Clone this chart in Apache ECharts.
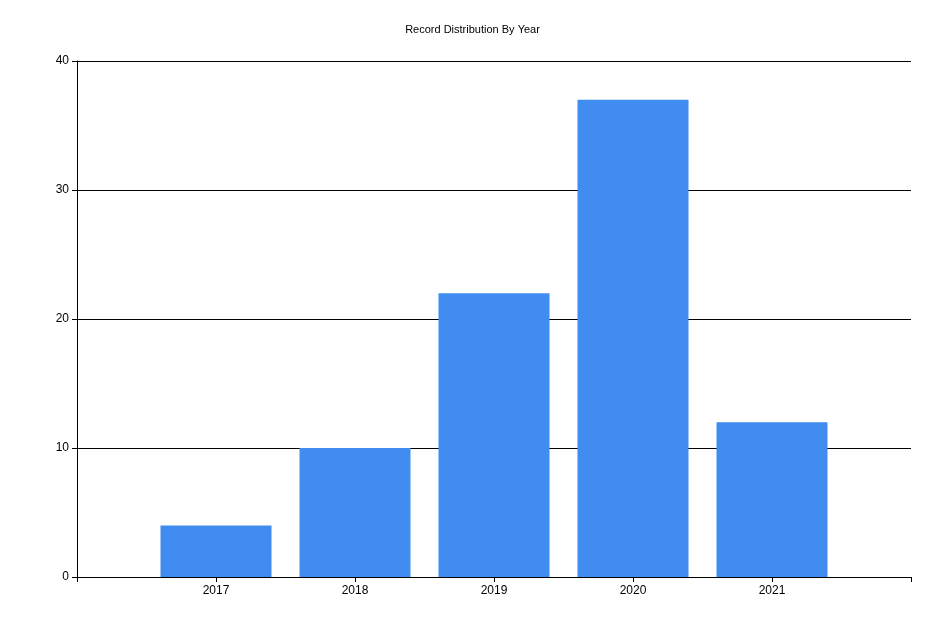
<!DOCTYPE html>
<html><head><meta charset="utf-8">
<script src="https://cdn.jsdelivr.net/npm/echarts@6/dist/echarts.min.js"></script>
<style>html,body{margin:0;padding:0;background:#fff}#c{width:945px;height:630px}</style>
</head><body><div id="c"></div>
<script>
const years = [2017, 2018, 2019, 2020, 2021];
const counts = [4, 10, 22, 37, 12];
const yTicks = [0, 10, 20, 30, 40];
const chart = echarts.init(document.getElementById('c'));
chart.setOption({
  animation: false,
  title: { text: 'Record Distribution By Year', left: 'center', top: 19,
    textStyle: { fontSize: 11, fontWeight: 'normal', color: '#000', fontFamily: 'Liberation Sans' } },
  grid: { left: 77, right: 34, top: 61, bottom: 53 },
  xAxis: { type: 'value', min: 2016, max: 2022, interval: 1,
    axisLine: { lineStyle: { color: '#000' } },
    axisTick: { show: true, length: 5, lineStyle: { color: '#000' } },
    splitLine: { show: false },
    axisLabel: { color: '#000', fontSize: 12, fontFamily: 'Liberation Sans',
      formatter: v => years.includes(v) ? String(v) : '' } },
  yAxis: { type: 'value', min: yTicks[0], max: yTicks[yTicks.length-1], interval: 10,
    axisLine: { show: true, lineStyle: { color: '#000' } },
    axisTick: { show: true, length: 5, lineStyle: { color: '#000' } },
    splitLine: { show: true, lineStyle: { color: '#000' } },
    axisLabel: { color: '#000', fontSize: 12, fontFamily: 'Liberation Sans' } },
  series: [{ type: 'bar', barWidth: 111, data: years.map((y, i) => [y, counts[i]]),
    itemStyle: { color: '#418cf0' } }]
});
</script></body></html>
